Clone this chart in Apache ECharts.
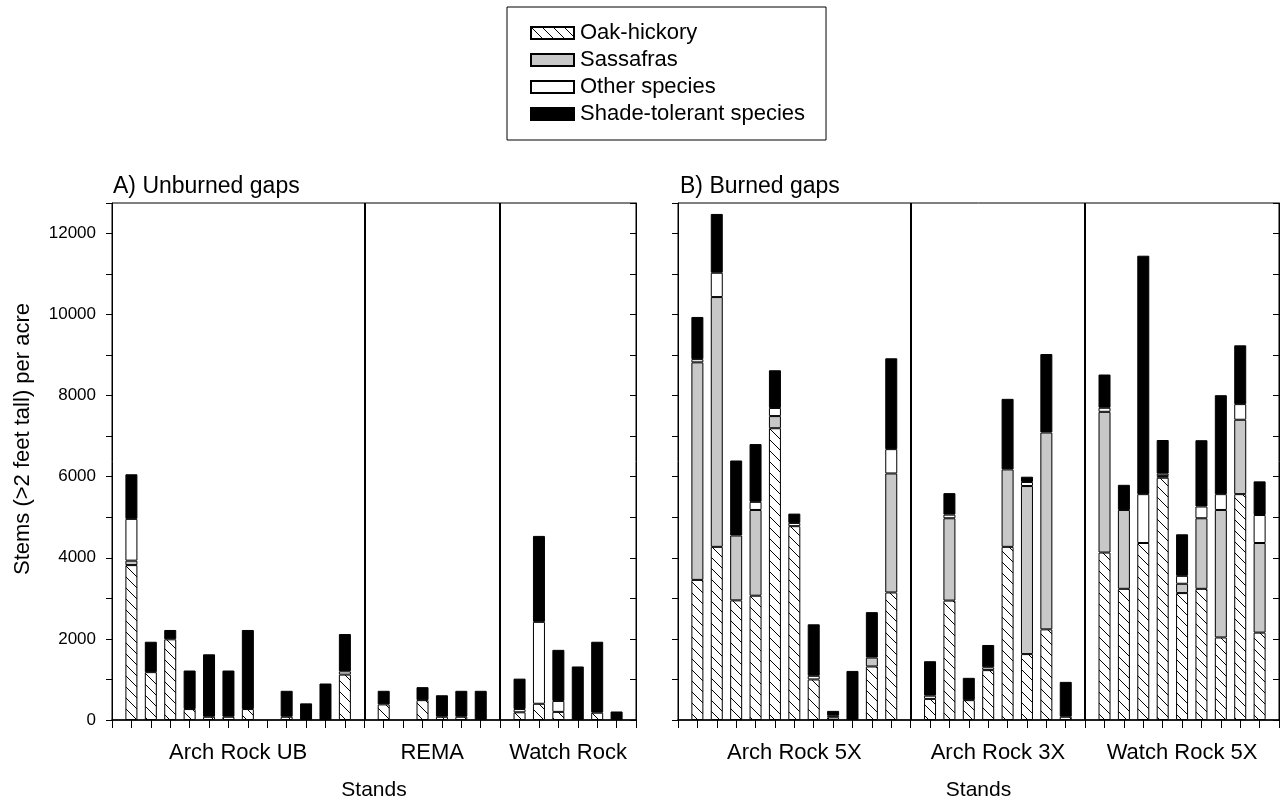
<!DOCTYPE html>
<html>
<head>
<meta charset="utf-8">
<script src="https://cdn.jsdelivr.net/npm/echarts@6/dist/echarts.min.js"></script>
<style>
  html, body { margin: 0; padding: 0; background: #fff; }
  #chart { width: 1287px; height: 806px; }
</style>
</head>
<body>
<div id="chart"></div>
<script>
// stands and number of gaps measured in each one
var standsA = ['Arch Rock UB', 'REMA', 'Watch Rock'];
var gapsA = [12, 6, 6];
var standsB = ['Arch Rock 5X', 'Arch Rock 3X', 'Watch Rock 5X'];
var gapsB = [11, 8, 9];

var species = ['Oak-hickory', 'Sassafras', 'Other species', 'Shade-tolerant species'];

// A) Unburned gaps - stems (>2 feet tall) per acre, one value per gap
var oakA = [3820, 1180, 1990, 270, 80, 80, 270, 0, 80, 0, 0, 1120,
            385, 0, 490, 80, 80, 0,
            190, 400, 200, 0, 180, 0];
var sassafrasA = [110, 0, 0, 0, 0, 0, 0, 0, 0, 0, 0, 0,
                  0, 0, 0, 0, 0, 0,
                  0, 0, 0, 0, 0, 0];
var otherA = [1030, 0, 0, 0, 0, 0, 0, 0, 0, 0, 0, 80,
              0, 0, 0, 0, 0, 0,
              80, 2020, 270, 0, 0, 0];
var shadeA = [1100, 750, 230, 950, 1540, 1140, 1950, 0, 640, 410, 900, 920,
              335, 0, 320, 530, 640, 720,
              750, 2120, 1260, 1320, 1750, 210];

// B) Burned gaps
var oakB = [3455, 4270, 2950, 3065, 7195, 4780, 1000, 65, 0, 1320, 3145,
            520, 2945, 490, 1230, 4270, 1625, 2235, 80,
            4130, 3235, 4365, 5975, 3130, 3235, 2035, 5570, 2155];
var sassafrasB = [5365, 6160, 1600, 2115, 300, 0, 0, 0, 0, 220, 2935,
                  0, 2030, 0, 0, 1910, 4145, 4855, 0,
                  3470, 1945, 0, 40, 230, 1740, 3145, 1835, 2210];
var otherB = [80, 600, 0, 200, 200, 80, 90, 40, 0, 0, 600,
              80, 90, 0, 70, 0, 100, 0, 0,
              100, 0, 1205, 60, 195, 290, 390, 385, 690];
var shadeB = [1040, 1450, 1850, 1425, 930, 230, 1270, 120, 1210, 1120, 2240,
              850, 530, 550, 550, 1740, 130, 1935, 860,
              820, 620, 5880, 830, 1025, 1635, 2440, 1450, 830];

var yMax = 12750;
var FONT = '"Liberation Sans", Arial, sans-serif';

// slot 0 is the frame, then gaps of each stand followed by a divider slot
function toSlots(values, gaps) {
  var out = ['-'];
  var k = 0;
  gaps.forEach(function (n) {
    for (var i = 0; i < n; i++) {
      var v = values[k++];
      out.push(v ? v : '-');
    }
    out.push('-');
  });
  return out;
}
function slotNames(gaps) {
  var n = 1 + gaps.reduce(function (a, b) { return a + b + 1; }, 0);
  var arr = [];
  for (var i = 0; i < n; i++) arr.push(String(i));
  return arr;
}
function dividers(gaps) {
  var pos = 0, out = [];
  gaps.forEach(function (n, i) {
    pos += n + 1;
    if (i < gaps.length - 1) out.push(String(pos));
  });
  return out;
}
function centers(gaps) {
  var pos = 0, out = [];
  gaps.forEach(function (n) {
    out.push(pos + (n + 1) / 2);
    pos += n + 1;
  });
  return out;
}

function hatch() {
  var s = 11;
  var c = document.createElement('canvas');
  c.width = s; c.height = s;
  var ctx = c.getContext('2d');
  ctx.fillStyle = '#fff';
  ctx.fillRect(0, 0, s, s);
  ctx.strokeStyle = '#000';
  ctx.lineWidth = 1;
  ctx.beginPath();
  [-s, 0, s].forEach(function (o) {
    ctx.moveTo(o - 1, -1);
    ctx.lineTo(o + s + 1, s + 1);
  });
  ctx.stroke();
  return c;
}

var colors = [{ image: hatch(), repeat: 'repeat' }, '#c8c8c8', '#ffffff', '#000000'];

var slotsA = slotNames(gapsA);
var slotsB = slotNames(gapsB);
var centersA = centers(gapsA);
var centersB = centers(gapsB);

function groupAxis(grid, slots, cs, stands) {
  return {
    gridIndex: grid,
    type: 'value',
    position: 'bottom',
    min: 0,
    max: slots.length - 1,
    axisLine: { show: false },
    axisTick: { show: false },
    splitLine: { show: false },
    axisLabel: {
      customValues: cs,
      margin: 22,
      fontSize: 22,
      fontFamily: FONT,
      color: '#000',
      formatter: function (v) {
        var i = cs.indexOf(v);
        return i >= 0 ? stands[i] : '';
      }
    }
  };
}

function slotAxis(grid, slots) {
  return {
    gridIndex: grid,
    type: 'category',
    data: slots,
    position: 'bottom',
    boundaryGap: false,
    axisLine: { lineStyle: { color: '#000', width: 1.5 } },
    axisTick: { interval: 0, length: 8, lineStyle: { color: '#000' } },
    axisLabel: { show: false },
    splitLine: { show: false },
    name: 'Stands',
    nameLocation: 'middle',
    nameGap: 60,
    nameTextStyle: { fontSize: 21, fontFamily: FONT, color: '#000' }
  };
}

function valueAxis(grid, pos, labels) {
  return {
    gridIndex: grid,
    type: 'value',
    position: pos,
    min: 0,
    max: yMax,
    interval: 1000,
    axisLine: { show: true, lineStyle: { color: '#000' } },
    axisTick: { show: true, length: 6, inside: pos === 'right', lineStyle: { color: '#000' } },
    splitLine: { show: false },
    axisLabel: {
      show: labels,
      fontSize: 17,
      fontFamily: FONT,
      color: '#000',
      margin: 16,
      formatter: function (v) { return v % 2000 === 0 ? String(v) : ''; }
    }
  };
}

function barSeries(panel, idx, values, gaps, divs) {
  var s = {
    type: 'bar',
    name: species[idx],
    xAxisIndex: panel * 2,
    yAxisIndex: panel * 2,
    stack: 'panel' + panel,
    barWidth: 12,
    data: toSlots(values, gaps),
    itemStyle: { color: colors[idx], borderColor: '#000', borderWidth: 1 },
    emphasis: { disabled: true },
    animation: false
  };
  if (idx === 3) {
    s.markLine = {
      symbol: 'none',
      silent: true,
      animation: false,
      label: { show: false },
      lineStyle: { color: '#000', width: 2, type: 'solid' },
      data: divs.map(function (d) { return { xAxis: d }; })
    };
  }
  return s;
}

var chart = echarts.init(document.getElementById('chart'));
chart.setOption({
  backgroundColor: '#fff',
  animation: false,
  textStyle: { fontFamily: FONT },
  title: [
    { text: 'A) Unburned gaps', left: 113, top: 175, padding: 0,
      textStyle: { fontSize: 23, fontWeight: 'normal', color: '#000', fontFamily: FONT } },
    { text: 'B) Burned gaps', left: 680, top: 175, padding: 0,
      textStyle: { fontSize: 23, fontWeight: 'normal', color: '#000', fontFamily: FONT } }
  ],
  legend: {
    orient: 'vertical',
    left: 507,
    top: 7,
    itemWidth: 43,
    itemHeight: 12,
    itemGap: 3,
    padding: [14, 21, 14, 23],
    borderColor: '#000',
    borderWidth: 1,
    selectedMode: false,
    icon: 'rect',
    data: species,
    textStyle: { fontSize: 22, fontFamily: FONT, color: '#000', lineHeight: 24, padding: [0, 0, 0, 1] }
  },
  grid: [
    { left: 112, top: 203, width: 524, height: 522, show: true, borderColor: '#000', borderWidth: 1 },
    { left: 678, top: 203, width: 601, height: 522, show: true, borderColor: '#000', borderWidth: 1 }
  ],
  xAxis: [
    slotAxis(0, slotsA),
    groupAxis(0, slotsA, centersA, standsA),
    slotAxis(1, slotsB),
    groupAxis(1, slotsB, centersB, standsB)
  ],
  yAxis: [
    valueAxis(0, 'left', true),
    valueAxis(0, 'right', false),
    valueAxis(1, 'left', false),
    valueAxis(1, 'right', false)
  ],
  graphic: [{
    type: 'text',
    x: 23,
    y: 439,
    rotation: Math.PI / 2,
    style: {
      text: 'Stems (>2 feet tall) per acre',
      fontSize: 22,
      fontFamily: FONT,
      fill: '#000',
      align: 'center',
      verticalAlign: 'middle'
    }
  }],
  series: [
    barSeries(0, 0, oakA, gapsA, dividers(gapsA)),
    barSeries(0, 1, sassafrasA, gapsA, dividers(gapsA)),
    barSeries(0, 2, otherA, gapsA, dividers(gapsA)),
    barSeries(0, 3, shadeA, gapsA, dividers(gapsA)),
    barSeries(1, 0, oakB, gapsB, dividers(gapsB)),
    barSeries(1, 1, sassafrasB, gapsB, dividers(gapsB)),
    barSeries(1, 2, otherB, gapsB, dividers(gapsB)),
    barSeries(1, 3, shadeB, gapsB, dividers(gapsB))
  ]
});
</script>
</body>
</html>
